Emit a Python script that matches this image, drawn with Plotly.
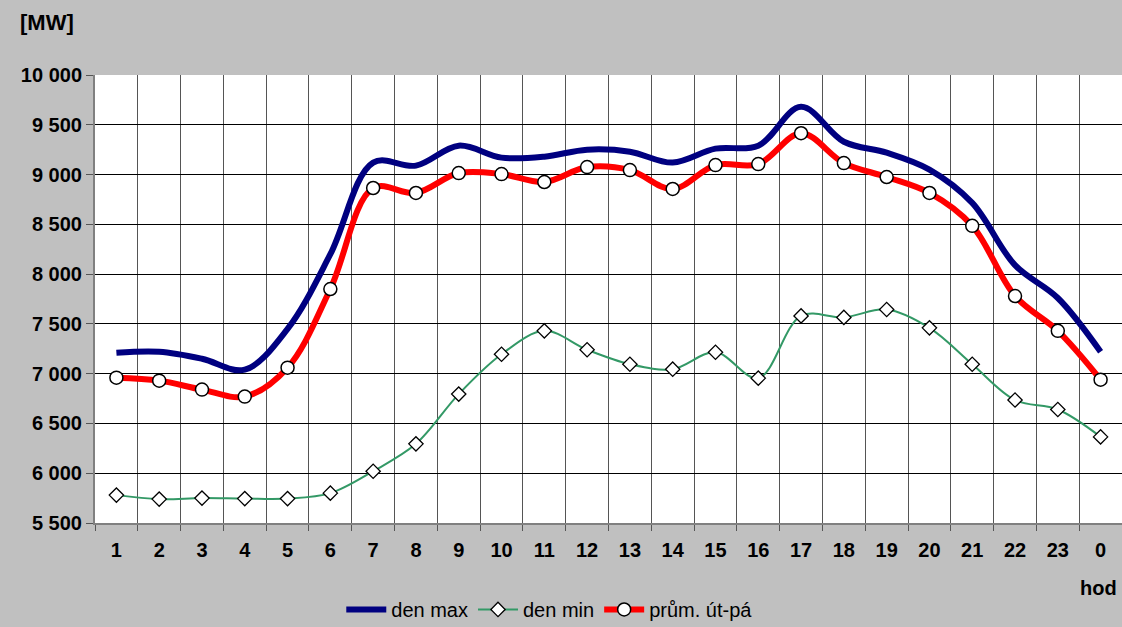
import plotly.graph_objects as go

hours = ["1", "2", "3", "4", "5", "6", "7", "8", "9", "10", "11", "12",
         "13", "14", "15", "16", "17", "18", "19", "20", "21", "22", "23", "0"]
den_max = [7210, 7220, 7150, 7040, 7450, 8200, 9120, 9090, 9290, 9170, 9180, 9250,
           9230, 9120, 9260, 9290, 9680, 9330, 9220, 9050, 8715, 8090, 7760, 7220]
den_min = [5780, 5740, 5750, 5745, 5745, 5800, 6020, 6295, 6795, 7195, 7430, 7240,
           7095, 7045, 7215, 6955, 7580, 7565, 7645, 7460, 7095, 6735, 6640, 6365]
prum = [6960, 6930, 6840, 6770, 7060, 7850, 8865, 8815, 9015, 9005, 8925, 9075,
        9045, 8855, 9095, 9105, 9415, 9115, 8975, 8815, 8485, 7780, 7430, 6940]
y_ticks = [5500, 6000, 6500, 7000, 7500, 8000, 8500, 9000, 9500, 10000]
y_labels = ["5 500", "6 000", "6 500", "7 000", "7 500", "8 000", "8 500", "9 000", "9 500", "10 000"]

x = list(range(1, len(hours) + 1))
FONT = "Liberation Sans, Arial, sans-serif"

fig = go.Figure()
fig.add_trace(go.Scatter(
    x=x, y=den_max, name="den max", mode="lines",
    line=dict(color="#000080", width=6, shape="spline", smoothing=1),
))
fig.add_trace(go.Scatter(
    x=x, y=den_min, name="den min", mode="lines+markers",
    line=dict(color="#339966", width=2, shape="spline", smoothing=1),
    marker=dict(symbol="diamond", size=11, color="white", line=dict(color="black", width=1.3)),
))
fig.add_trace(go.Scatter(
    x=x, y=prum, name="prům. út-pá", mode="lines+markers",
    line=dict(color="#FF0000", width=6, shape="spline", smoothing=1),
    marker=dict(symbol="circle", size=13, color="white", line=dict(color="black", width=1.5)),
))

fig.update_layout(
    width=1122, height=627,
    margin=dict(l=95, r=0, t=75, b=104, autoexpand=False),
    paper_bgcolor="#C0C0C0", plot_bgcolor="white",
    font=dict(family=FONT, size=20, color="black"),
    showlegend=True,
    legend=dict(orientation="h", xref="container", yref="container",
                x=0.49, xanchor="center", y=0.028, yanchor="middle",
                bgcolor="rgba(0,0,0,0)", font=dict(family=FONT, size=20, color="black"),
                traceorder="normal", itemwidth=40, tracegroupgap=0),
    xaxis=dict(
        range=[0.5, 24.5], tickmode="array", tickvals=x, ticktext=hours,
        showgrid=False, ticks="", zeroline=False, automargin=False,
        tickfont=dict(family=FONT, size=20, color="black", weight="bold"),
        ticklabelstandoff=8,
        showline=True, linecolor="#808080", linewidth=2,
        minor=dict(tickmode="array", tickvals=[i + 0.5 for i in range(25)],
                   showgrid=True, gridcolor="#555555", gridwidth=1,
                   ticks="outside", ticklen=6, tickcolor="#555555"),
        fixedrange=True,
    ),
    yaxis=dict(
        range=[5500, 10000], tickmode="array", tickvals=y_ticks, ticktext=y_labels,
        showgrid=True, gridcolor="black", gridwidth=1, zeroline=False, automargin=False,
        ticks="outside", ticklen=7, tickcolor="#555555",
        tickfont=dict(family=FONT, size=20, color="black", weight="bold"),
        showline=True, linecolor="#808080", linewidth=2,
        fixedrange=True,
    ),
    annotations=[
        dict(text="[MW]", xref="paper", yref="paper", x=-0.075, y=1.118,
             xanchor="left", yanchor="middle", showarrow=False,
             font=dict(family=FONT, size=22, color="black", weight="bold")),
        dict(text="hod", xref="paper", yref="paper", x=0.997, y=-0.145,
             xanchor="right", yanchor="middle", showarrow=False,
             font=dict(family=FONT, size=20, color="black", weight="bold")),
    ],
)

fig.write_html("out.html", config={"displayModeBar": False},
               post_script="document.body.style.margin='0px';document.body.style.overflow='hidden';")
